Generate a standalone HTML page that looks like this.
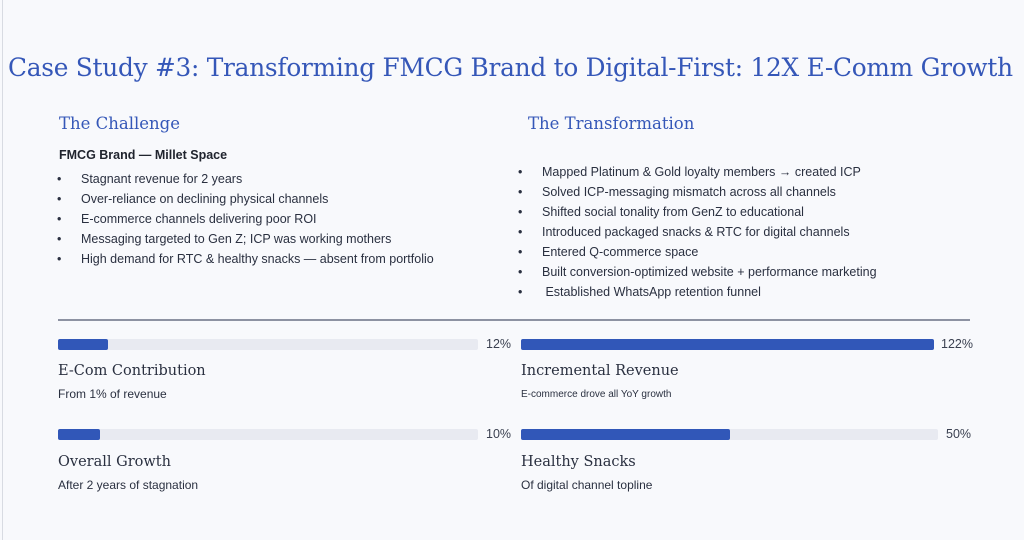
<!DOCTYPE html>
<html><head><meta charset="utf-8"><style>
body{margin:0;width:1024px;height:540px;background:#f8f9fc;position:relative;overflow:hidden;font-family:"Liberation Sans",sans-serif;color:#2a3040}
.a{position:absolute;white-space:nowrap}
.serif{font-family:"DejaVu Serif","Liberation Serif",serif}
.t{color:#3557b8}
.b{font-size:12.5px;line-height:20px}
.track{position:absolute;height:11px;background:#e8eaf1;border-radius:2px}
.fill{position:absolute;height:11px;background:#3157b8;border-radius:2px}
.pct{font-size:12.5px;color:#3a4050}
.lab{font-size:14.5px;color:#2a3040}
</style></head><body>
<div class="a" style="left:2px;top:0;width:1px;height:540px;background:#d8dbe2"></div>
<div class="a serif t" style="left:8px;top:53px;font-size:24.8px;letter-spacing:-0.25px">Case Study #3: Transforming FMCG Brand to Digital-First: 12X E-Comm Growth</div>

<div class="a serif t" style="left:59px;top:114px;font-size:16.5px">The Challenge</div>
<div class="a" style="left:59px;top:148px;font-size:12.5px;font-weight:bold;color:#20242e">FMCG Brand — Millet Space</div>
<div class="a b" style="left:57px;top:169px">•<br>•<br>•<br>•<br>•</div>
<div class="a b" style="left:81px;top:169px">Stagnant revenue for 2 years<br>Over-reliance on declining physical channels<br>E-commerce channels delivering poor ROI<br>Messaging targeted to Gen Z; ICP was working mothers<br>High demand for RTC &amp; healthy snacks — absent from portfolio</div>

<div class="a serif t" style="left:528px;top:114px;font-size:16.5px">The Transformation</div>
<div class="a b" style="left:518px;top:162px">•<br>•<br>•<br>•<br>•<br>•<br>•</div>
<div class="a b" style="left:542px;top:162px">Mapped Platinum &amp; Gold loyalty members → created ICP<br>Solved ICP-messaging mismatch across all channels<br>Shifted social tonality from GenZ to educational<br>Introduced packaged snacks &amp; RTC for digital channels<br>Entered Q-commerce space<br>Built conversion-optimized website + performance marketing<br>&nbsp;Established WhatsApp retention funnel</div>

<div class="a" style="left:58px;top:319px;width:912px;height:2px;background:#8d92a2"></div>

<div class="track" style="left:58px;top:339px;width:420px"></div>
<div class="fill" style="left:58px;top:339px;width:50px"></div>
<div class="a pct" style="left:486px;top:337px">12%</div>
<div class="a serif lab" style="left:58px;top:363px">E-Com Contribution</div>
<div class="a" style="left:58px;top:387px;font-size:12px">From 1% of revenue</div>

<div class="track" style="left:58px;top:429px;width:420px"></div>
<div class="fill" style="left:58px;top:429px;width:42px"></div>
<div class="a pct" style="left:486px;top:427px">10%</div>
<div class="a serif lab" style="left:58px;top:454px">Overall Growth</div>
<div class="a" style="left:58px;top:478px;font-size:12px">After 2 years of stagnation</div>

<div class="track" style="left:521px;top:339px;width:413px"></div>
<div class="fill" style="left:521px;top:339px;width:413px"></div>
<div class="a pct" style="left:941px;top:337px">122%</div>
<div class="a serif lab" style="left:521px;top:363px">Incremental Revenue</div>
<div class="a" style="left:521px;top:389px;font-size:10px">E-commerce drove all YoY growth</div>

<div class="track" style="left:521px;top:429px;width:417px"></div>
<div class="fill" style="left:521px;top:429px;width:209px"></div>
<div class="a pct" style="left:946px;top:427px">50%</div>
<div class="a serif lab" style="left:521px;top:454px">Healthy Snacks</div>
<div class="a" style="left:521px;top:478px;font-size:12px">Of digital channel topline</div>
</body></html>
